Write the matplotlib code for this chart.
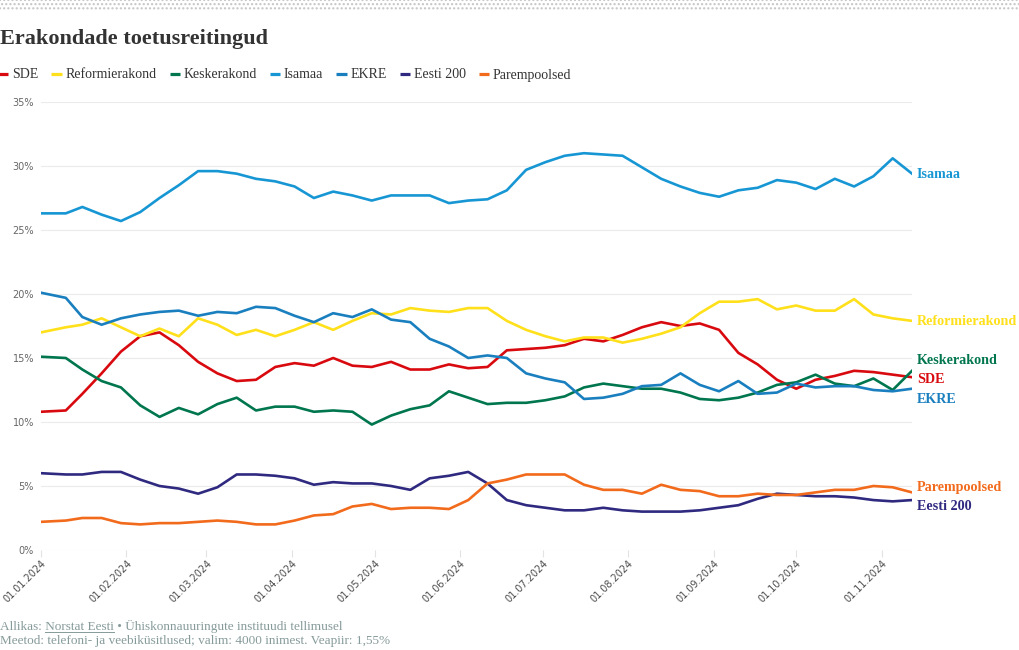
import numpy as np
import pandas as pd
import matplotlib
matplotlib.use('Agg')
import matplotlib.pyplot as plt
import matplotlib.dates as mdates
from matplotlib.patches import Rectangle
from matplotlib.lines import Line2D

# weekly Norstat polls, 2024
dates = pd.to_datetime(['2024-01-01', '2024-01-10']).append(
    pd.date_range('2024-01-16', periods=44, freq='7D'))

sde = [10.8, 10.9, 12.2, 13.8, 15.5, 16.7, 17.0, 16.0, 14.7, 13.8,
       13.2, 13.3, 14.3, 14.6, 14.4, 15.0, 14.4, 14.3, 14.7, 14.1,
       14.1, 14.5, 14.2, 14.3, 15.6, 15.7, 15.8, 16.0, 16.5, 16.3,
       16.8, 17.4, 17.8, 17.5, 17.7, 17.2, 15.4, 14.5, 13.3, 12.6,
       13.3, 13.6, 14.0, 13.9, 13.7, 13.5]
reform = [17.0, 17.4, 17.6, 18.1, 17.4, 16.7, 17.3, 16.7, 18.1, 17.6,
          16.8, 17.2, 16.7, 17.2, 17.8, 17.2, 17.9, 18.5, 18.4, 18.9,
          18.7, 18.6, 18.9, 18.9, 17.9, 17.2, 16.7, 16.3, 16.6, 16.6,
          16.2, 16.5, 16.9, 17.4, 18.5, 19.4, 19.4, 19.6, 18.8, 19.1,
          18.7, 18.7, 19.6, 18.4, 18.1, 17.9]
kesk = [15.1, 15.0, 14.1, 13.2, 12.7, 11.3, 10.4, 11.1, 10.6, 11.4,
        11.9, 10.9, 11.2, 11.2, 10.8, 10.9, 10.8, 9.8, 10.5, 11.0,
        11.3, 12.4, 11.9, 11.4, 11.5, 11.5, 11.7, 12.0, 12.7, 13.0,
        12.8, 12.6, 12.6, 12.3, 11.8, 11.7, 11.9, 12.3, 12.9, 13.1,
        13.7, 13.0, 12.8, 13.4, 12.5, 14.0]
isamaa = [26.3, 26.3, 26.8, 26.2, 25.7, 26.4, 27.5, 28.5, 29.6, 29.6,
          29.4, 29.0, 28.8, 28.4, 27.5, 28.0, 27.7, 27.3, 27.7, 27.7,
          27.7, 27.1, 27.3, 27.4, 28.1, 29.7, 30.3, 30.8, 31.0, 30.9,
          30.8, 29.9, 29.0, 28.4, 27.9, 27.6, 28.1, 28.3, 28.9, 28.7,
          28.2, 29.0, 28.4, 29.2, 30.6, 29.4]
ekre = [20.1, 19.7, 18.2, 17.6, 18.1, 18.4, 18.6, 18.7, 18.3, 18.6,
        18.5, 19.0, 18.9, 18.3, 17.8, 18.5, 18.2, 18.8, 18.0, 17.8,
        16.5, 15.9, 15.0, 15.2, 15.0, 13.8, 13.4, 13.1, 11.8, 11.9,
        12.2, 12.8, 12.9, 13.8, 12.9, 12.4, 13.2, 12.2, 12.3, 13.0,
        12.7, 12.8, 12.8, 12.5, 12.4, 12.6]
eesti200 = [6.0, 5.9, 5.9, 6.1, 6.1, 5.5, 5.0, 4.8, 4.4, 4.9,
            5.9, 5.9, 5.8, 5.6, 5.1, 5.3, 5.2, 5.2, 5.0, 4.7,
            5.6, 5.8, 6.1, 5.2, 3.9, 3.5, 3.3, 3.1, 3.1, 3.3,
            3.1, 3.0, 3.0, 3.0, 3.1, 3.3, 3.5, 4.0, 4.4, 4.3,
            4.2, 4.2, 4.1, 3.9, 3.8, 3.9]
parem = [2.2, 2.3, 2.5, 2.5, 2.1, 2.0, 2.1, 2.1, 2.2, 2.3,
         2.2, 2.0, 2.0, 2.3, 2.7, 2.8, 3.4, 3.6, 3.2, 3.3,
         3.3, 3.2, 3.9, 5.2, 5.5, 5.9, 5.9, 5.9, 5.1, 4.7,
         4.7, 4.4, 5.1, 4.7, 4.6, 4.2, 4.2, 4.4, 4.3, 4.3,
         4.5, 4.7, 4.7, 5.0, 4.9, 4.5]

parties = ['SDE', 'Reformierakond', 'Keskerakond', 'Isamaa', 'EKRE', 'Eesti 200', 'Parempoolsed']
series = [sde, reform, kesk, isamaa, ekre, eesti200, parem]
colors = ['#d90a0f', '#ffe01a', '#00764f', '#1796d4', '#1a7fbf', '#2f2a80', '#f26a1b']

SERIF = 'Liberation Serif'
W, H = 1020, 650

fig = plt.figure(figsize=(W / 100, H / 100), dpi=100)
ax = fig.add_axes([41 / W, 1 - 550 / H, (912 - 41) / W, (550 - 102) / H])

for vals, c in zip(series, colors):
    ax.plot(dates, vals, color=c, lw=1.9, solid_joinstyle='round', zorder=3)

ax.set_ylim(0, 35)
ax.set_xlim(dates[0], dates[-1])
ax.set_yticks(range(0, 36, 5))
ax.yaxis.set_major_formatter(lambda v, p: f'{v:.0f}%')
ax.tick_params(axis='y', length=0, pad=5, labelsize=7, labelcolor='#666666')
ax.grid(axis='y', color='#ebebeb', lw=0.8)
ax.set_axisbelow(True)
for s in ax.spines.values():
    s.set_visible(False)

ax.xaxis.set_major_locator(mdates.MonthLocator())
ax.xaxis.set_major_formatter(mdates.DateFormatter('%d.%m.%Y'))
ax.tick_params(axis='x', length=5, width=0.8, color='#e3e3e3', labelsize=7,
               labelcolor='#4d4d4d', pad=1)
plt.setp(ax.get_xticklabels(), rotation=45, ha='right', rotation_mode='anchor')

# end labels, pushed apart where they would overlap
last = [v[-1] for v in series]
gap = 19.5 / 12.8
order = sorted(range(len(last)), key=lambda i: -last[i])
clusters = [[i] for i in order]
merged = True
while merged:
    merged = False
    tops = [np.mean([last[i] for i in cl]) + gap * (len(cl) - 1) / 2 for cl in clusters]
    for k in range(len(clusters) - 1):
        bottom = tops[k] - gap * (len(clusters[k]) - 1)
        if bottom - tops[k + 1] < gap:
            clusters[k] = clusters[k] + clusters.pop(k + 1)
            merged = True
            break
tops = [np.mean([last[i] for i in cl]) + gap * (len(cl) - 1) / 2 for cl in clusters]
for cl, top in zip(clusters, tops):
    for j, i in enumerate(cl):
        ax.annotate(parties[i], xy=(dates[-1], top - gap * j), xytext=(5, -1),
                    textcoords='offset pixels', va='center', ha='left',
                    fontsize=10.2, fontweight='bold', family=SERIF,
                    color=colors[i], annotation_clip=False)

# title and legend
fig.text(0, 1 - 39 / H, 'Erakondade toetusreitingud', fontsize=16, fontweight='bold',
         family=SERIF, color='#333333', va='center')
handles = [Line2D([], [], color=c, lw=2.3, solid_capstyle='butt') for c in colors]
fig.legend(handles, parties, loc='center left', bbox_to_anchor=(-0.002, 1 - 75 / H),
           ncol=7, frameon=False, handlelength=0.75, handletextpad=0.25,
           columnspacing=0.95, borderpad=0, borderaxespad=0,
           prop={'family': SERIF, 'size': 10}, labelcolor='#333333')

# dotted strip at the top
fig.add_artist(Rectangle((0, 1 - 10 / H), 1, 10 / H, transform=fig.transFigure,
                         facecolor='white', edgecolor='#c4c4c4', hatch='....', lw=0))

# footer
foot = dict(fontsize=9.5, family=SERIF, color='#869a9a', va='center')
r = fig.canvas.get_renderer()
y1 = 1 - 626 / H
fig.text(0, y1, 'Allikas: Norstat Eesti • Ühiskonnauuringute instituudi tellimusel', **foot)
tmp_a = fig.text(0, 0.5, 'Allikas:', **foot)
tmp_b = fig.text(0, 0.5, 'Allikas: Norstat Eesti', **foot)
w_a = tmp_a.get_window_extent(r).width
w_b = tmp_b.get_window_extent(r).width
tmp_a.remove()
tmp_b.remove()
x0 = (w_a + 3) / W
x1 = w_b / W
fig.add_artist(Line2D([x0, x1], [y1 - 6 / H, y1 - 6 / H], color='#869a9a', lw=0.7,
                      transform=fig.transFigure))
fig.text(0, 1 - 641 / H, 'Meetod: telefoni- ja veebiküsitlused; valim: 4000 inimest. Veapiir: 1,55%',
         **foot)

fig.savefig('out.png', dpi=100)
